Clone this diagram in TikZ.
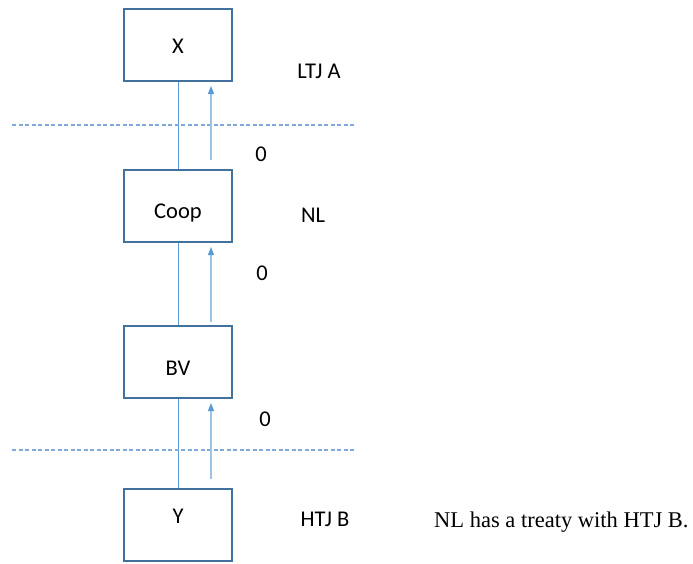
\documentclass[tikz,border=0pt]{standalone}
\usepackage{fontspec}
\setmainfont{Carlito}
\newfontfamily\notefont{Liberation Serif}
\usetikzlibrary{arrows.meta}
\definecolor{boxline}{HTML}{41719C}
\definecolor{linkline}{HTML}{5B9BD5}
\definecolor{flowline}{HTML}{9DC3E6}
\definecolor{sepline}{HTML}{7FAADB}
\tikzset{
  entity/.style={draw=boxline, line width=1.2pt, minimum width=108pt, minimum height=72pt, inner sep=0pt},
  lbl/.style={anchor=base, inner sep=0pt, font=\fontsize{22.5}{26}\selectfont},
  link/.style={draw=linkline, line width=1pt},
  flow/.style={draw=flowline, line width=1.2pt, -{Triangle[length=8pt,width=6pt,fill=linkline,color=linkline]}},
  sep/.style={draw=sepline, line width=1.1pt, dash pattern=on 4pt off 2.5pt}
}
\begin{document}
\begin{tikzpicture}[x=1pt,y=-1pt]
\useasboundingbox (0,0) rectangle (693,563);

% entities
\node[entity] (X)    at (178,45)  {};
\node[entity] (Coop) at (178,206) {};
\node[entity] (BV)   at (178,362) {};
\node[entity] (Y)    at (178,525) {};

\node[lbl] (tX)    at (178,53)  {X};
\node[lbl] (tCoop) at (178,218) {Coop};
\node[lbl] (tBV)   at (178,375) {BV};
\node[lbl] (tY)    at (178,523) {Y};

% ownership links
\draw[link] (X.south) -- (Coop.north);
\draw[link] (Coop.south) -- (BV.north);
\draw[link] (BV.south) -- (Y.north);

% jurisdiction separators
\coordinate (s1a) at (12,125);  \coordinate (s1b) at (355,125);
\coordinate (s2a) at (12,450);  \coordinate (s2b) at (355,450);
\draw[sep] (s1a) -- (s1b);
\draw[sep] (s2a) -- (s2b);

% payment flows
\coordinate (f1a) at (211,160); \coordinate (f1b) at (211,86);
\coordinate (f2a) at (211,322); \coordinate (f2b) at (211,247);
\coordinate (f3a) at (211,479); \coordinate (f3b) at (211,403);
\draw[flow] (f1a) -- (f1b);
\draw[flow] (f2a) -- (f2b);
\draw[flow] (f3a) -- (f3b);

% rates and jurisdictions
\node[lbl] (r1) at (261,161) {0};
\node[lbl] (r2) at (262,280) {0};
\node[lbl] (r3) at (265,426) {0};
\node[lbl] (jA)  at (319,78)  {LTJ A};
\node[lbl] (jNL) at (313,222) {NL};
\node[lbl] (jB)  at (325,526) {HTJ B};

\node[anchor=base west, inner sep=0pt, font=\notefont\fontsize{22.5}{26}\selectfont] (note) at (434,527) {NL has a treaty with HTJ B.};
\end{tikzpicture}
\end{document}
